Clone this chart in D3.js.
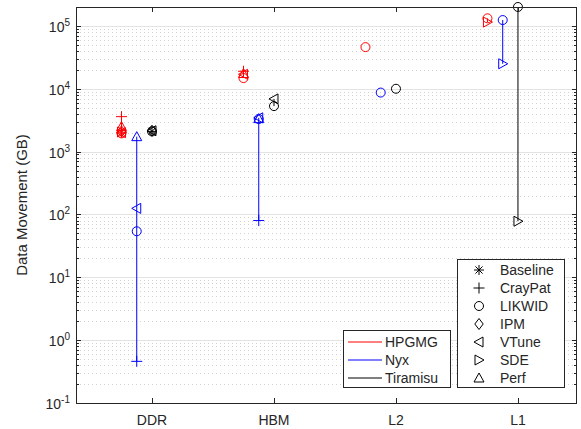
<!DOCTYPE html>
<html>
<head>
<meta charset="UTF-8">
<title>Data Movement</title>
<script src="https://d3js.org/d3.v7.min.js"></script>
<style>
    body { margin: 0; background: #fff; }
    text { font-family: "Liberation Sans", Arial, Helvetica, sans-serif; fill: #262626; }
</style>
</head>
<body>
<div class="canvas"></div>
<script>
    // data
    const categories = ['DDR', 'HBM', 'L2', 'L1']
    const apps = ['HPGMG', 'Nyx', 'Tiramisu']
    const tools = ['Baseline', 'CrayPat', 'LIKWID', 'IPM', 'VTune', 'SDE', 'Perf']
    const yTicks = [1e-1, 1e0, 1e1, 1e2, 1e3, 1e4, 1e5]

    // rows = categories, columns = tools (null = not measured)
    const hpgmg = [
        [2000, 3600, 1950, 2100, 2000, 2050, 2500],
        [null, 19000, 14800, null, 17000, null, 17500],
        [null, null, 46000, null, null, null, null],
        [null, null, 132000, null, null, 115000, null]
    ]
    const nyx = [
        [null, 0.46, 54, null, 125, null, 1730],
        [null, 80, 3300, null, 3450, null, 3350],
        [null, null, 8700, null, null, null, null],
        [null, null, 124000, null, null, 25000, null]
    ]
    const tiramisu = [
        [2100, null, 2100, 2150, 2150, null, null],
        [null, null, 5300, null, 6900, null, null],
        [null, null, 10000, null, null, null, null],
        [null, null, 200000, null, null, 78, null]
    ]
    const series = [hpgmg, nyx, tiramisu]

    const colors = ['#ff0000', '#0000ff', '#000000']
    const offsets = [-0.25, -0.125, 0]

    const width = 581
    const height = 429
    let [mt, mb, mr, ml] = [7, 26, 4, 76]

    const svg = d3.select('.canvas')
                .append('svg')
                .attr('width', width)
                .attr('height', height)

    const x = d3.scaleLinear()
                .domain([0.377, 4.484])
                .range([ml, width - mr])
    const y = d3.scaleLog()
                .domain([1e-1, 2e5])
                .range([height - mb, mt])

    const x0 = ml, x1 = width - mr, y0 = height - mb, y1 = mt

    // grid: minor dotted, major solid
    const minor = []
    for (let e = -1; e < 6; e++) {
        for (let k = 2; k <= 9; k++) {
            const v = k * Math.pow(10, e)
            if (v < 2e5) minor.push(v)
        }
    }
    svg.append('g').selectAll('line')
        .data(minor).enter().append('line')
        .attr('x1', x0).attr('x2', x1)
        .attr('y1', d => Math.round(y(d)) + 0.5).attr('y2', d => Math.round(y(d)) + 0.5)
        .attr('stroke', '#d2d2d2').attr('stroke-width', 1)
        .attr('stroke-dasharray', '1,3')
    svg.append('g').selectAll('line')
        .data(yTicks.slice(1)).enter().append('line')
        .attr('x1', x0).attr('x2', x1)
        .attr('y1', d => Math.round(y(d)) + 0.5).attr('y2', d => Math.round(y(d)) + 0.5)
        .attr('stroke', '#e3e3e3').attr('stroke-width', 1)

    // markers
    function marker(name) {
        switch (name) {
            case 'Baseline': return 'M-5,0H5M0,-5V5M-3.6,-3.6L3.6,3.6M-3.6,3.6L3.6,-3.6'
            case 'CrayPat': return 'M-5.5,0H5.5M0,-5.5V5.5'
            case 'LIKWID': return 'M4.5,0A4.5,4.5 0 1,1 -4.5,0A4.5,4.5 0 1,1 4.5,0Z'
            case 'IPM': return 'M0,-5.5L4.2,0L0,5.5L-4.2,0Z'
            case 'VTune': return 'M-5,0L4,-5L4,5Z'
            case 'SDE': return 'M5,0L-4,-5L-4,5Z'
            case 'Perf': return 'M0,-5L5,4L-5,4Z'
        }
    }

    const plot = svg.append('g')
    series.forEach((rows, a) => {
        rows.forEach((vals, c) => {
            const cx = x(c + 1 + offsets[a])
            const pts = vals.map((v, t) => ({ v: v, tool: tools[t] })).filter(d => d.v !== null)
            const ext = d3.extent(pts, d => d.v)
            plot.append('line')
                .attr('x1', cx).attr('x2', cx)
                .attr('y1', y(ext[0])).attr('y2', y(ext[1]))
                .attr('stroke', colors[a]).attr('stroke-width', 1)
            plot.selectAll(null)
                .data(pts).enter().append('path')
                .attr('d', d => marker(d.tool))
                .attr('transform', d => `translate(${cx}, ${y(d.v)})`)
                .attr('fill', 'none')
                .attr('stroke', colors[a])
                .attr('stroke-width', 1)
        })
    })

    // axes box + ticks
    const ax = svg.append('g').attr('stroke', '#262626').attr('stroke-width', 1)
    ax.append('rect')
        .attr('x', x0 + 0.5).attr('y', y1 + 0.5)
        .attr('width', x1 - x0 - 1).attr('height', y0 - y1)
        .attr('fill', 'none')
    yTicks.forEach(v => {
        const yy = Math.round(y(v)) + 0.5
        ax.append('line').attr('x1', x0).attr('x2', x0 + 5).attr('y1', yy).attr('y2', yy)
        ax.append('line').attr('x1', x1 - 5).attr('x2', x1).attr('y1', yy).attr('y2', yy)
    })
    minor.forEach(v => {
        const yy = Math.round(y(v)) + 0.5
        ax.append('line').attr('x1', x0).attr('x2', x0 + 3).attr('y1', yy).attr('y2', yy)
        ax.append('line').attr('x1', x1 - 3).attr('x2', x1).attr('y1', yy).attr('y2', yy)
    })
    categories.forEach((c, i) => {
        const xx = Math.round(x(i + 1)) + 0.5
        ax.append('line').attr('x1', xx).attr('x2', xx).attr('y1', y0).attr('y2', y0 - 5)
        ax.append('line').attr('x1', xx).attr('x2', xx).attr('y1', y1).attr('y2', y1 + 5)
    })

    // tick labels
    svg.append('g').selectAll('text')
        .data(categories).enter().append('text')
        .attr('x', (d, i) => x(i + 1))
        .attr('y', y0 + 22)
        .attr('text-anchor', 'middle')
        .style('font-size', '14px')
        .text(d => d)

    const yl = svg.append('g')
    yTicks.forEach(v => {
        const e = Math.round(Math.log10(v))
        const t = yl.append('text')
            .attr('x', x0 - 6)
            .attr('y', y(v) + 6)
            .attr('text-anchor', 'end')
            .style('font-size', '14px')
        t.append('tspan').text('10')
        t.append('tspan').attr('dy', -6).style('font-size', '10px').text(e)
    })

    svg.append('text')
        .attr('transform', `translate(${27}, ${(y0 + y1) / 2}) rotate(-90)`)
        .attr('text-anchor', 'middle')
        .style('font-size', '15px')
        .text('Data Movement (GB)')

    // legend: applications
    const lg1 = svg.append('g').attr('transform', 'translate(343, 330)')
    lg1.append('rect').attr('x', 0.5).attr('y', 0.5).attr('width', 107).attr('height', 57)
        .attr('fill', '#fff').attr('stroke', '#262626').attr('stroke-width', 1)
    apps.forEach((a, i) => {
        const yy = 12 + i * 18
        lg1.append('line').attr('x1', 5).attr('x2', 39).attr('y1', yy).attr('y2', yy)
            .attr('stroke', colors[i]).attr('stroke-width', 1)
        lg1.append('text').attr('x', 42).attr('y', yy + 5)
            .style('font-size', '14px').text(a)
    })

    // legend: tools
    const lg2 = svg.append('g').attr('transform', 'translate(457, 259)')
    lg2.append('rect').attr('x', 0.5).attr('y', 0.5).attr('width', 107).attr('height', 128)
        .attr('fill', '#fff').attr('stroke', '#262626').attr('stroke-width', 1)
    tools.forEach((t, i) => {
        const yy = 11 + i * 18
        lg2.append('path').attr('d', marker(t))
            .attr('transform', `translate(22, ${yy})`)
            .attr('fill', 'none').attr('stroke', '#000').attr('stroke-width', 1)
        lg2.append('text').attr('x', 43).attr('y', yy + 5)
            .style('font-size', '14px').text(t)
    })
</script>
</body>
</html>
